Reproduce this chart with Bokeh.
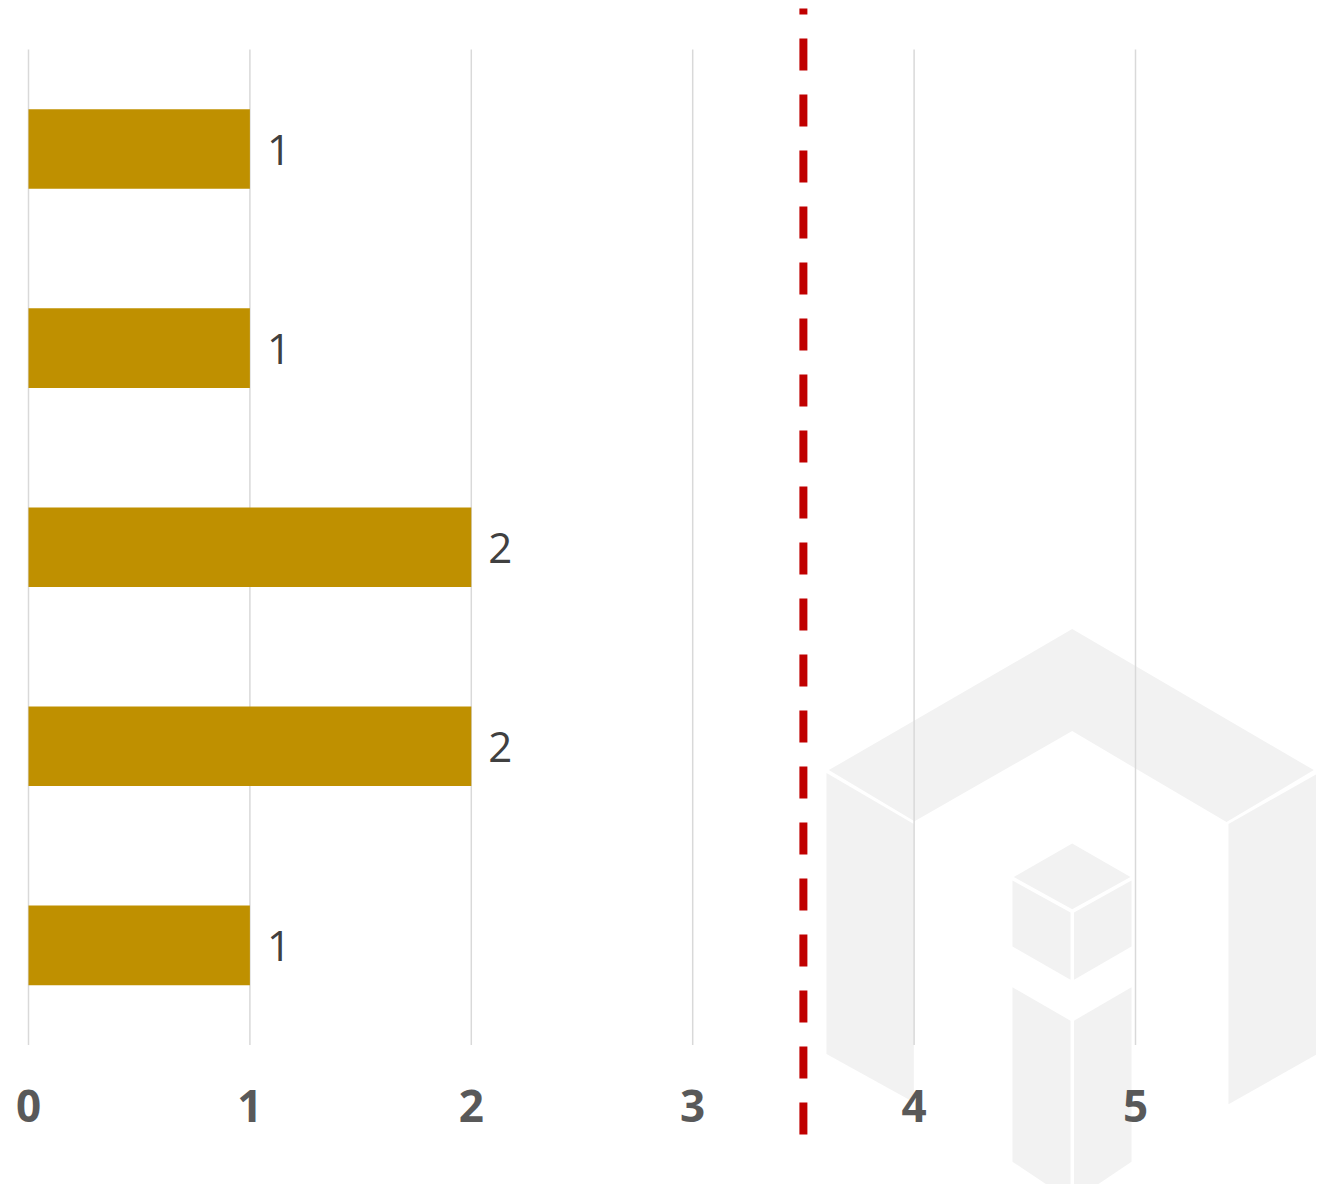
from bokeh.plotting import figure
from bokeh.models import Range1d, FixedTicker
from bokeh.core.properties import value
from bokeh.embed import file_html
from bokeh.resources import INLINE

# ---- data ----
categories = ["Category 1", "Category 2", "Category 3", "Category 4", "Category 5"]
values = [1, 1, 2, 2, 1]
target = 3.5
x_ticks = [0, 1, 2, 3, 4, 5]
value_labels = [str(v) for v in values]

# ---- layout constants (picture px -> data) ----
W, H = 1316, 1184
X0_PX, PX_PER_X = 28.0, 221.4       # px of x=0, px per unit
Y0_PX, PX_PER_CAT = 148.5, 199.1    # px of first category center, px per category


def dx(px):
    return (px - X0_PX) / PX_PER_X


def dy(px):
    return (px - Y0_PX) / PX_PER_CAT


x_range = Range1d(dx(0), dx(W))
y_range = Range1d(dy(H), dy(0))

p = figure(width=W, height=H, x_range=x_range, y_range=y_range,
           toolbar_location=None, output_backend="svg",
           y_axis_location=None, min_border=0,
           min_border_left=0, min_border_right=0, min_border_top=0, min_border_bottom=0)
p.outline_line_color = None
p.background_fill_color = "white"
p.border_fill_color = "white"
p.xgrid.visible = False
p.ygrid.visible = False

# ---- watermark (decorative, picture pixels) ----
wm_shapes = [
    [(1071.7, 628.6), (1313.3, 769.6), (1226, 821.6), (1071.7, 730.6), (914, 820.8), (828.3, 769.6)],
    [(826, 772.6), (913.3, 823.4), (913.3, 1101.8), (826, 1053.6)],
    [(1228, 823.4), (1316.7, 773.3), (1316.7, 1053.6), (1228, 1103.7)],
    [(1071.7, 843), (1130, 876.5), (1071.7, 908.8), (1013.3, 876.5)],
    [(1012, 880), (1070, 912), (1070, 979.3), (1012, 946)],
    [(1073.5, 912), (1131, 880), (1131, 946), (1073.5, 979.3)],
    [(1012, 986.8), (1070, 1020.2), (1070, 1200), (1012, 1161.2)],
    [(1073.5, 1020.2), (1131, 986.8), (1131, 1161.2), (1073.5, 1200)],
]
p.patches(xs=[[dx(a) for a, b in s] for s in wm_shapes],
          ys=[[dy(b) for a, b in s] for s in wm_shapes],
          fill_color="#f2f2f2", line_color=None, level="image")

# ---- vertical gridlines from ticks ----
n = len(categories)
p.segment(x0=x_ticks, x1=x_ticks, y0=[-0.5] * len(x_ticks), y1=[n - 0.5] * len(x_ticks),
          line_color="#d9d9d9", line_width=1.5, level="underlay")

# ---- bars ----
ys = list(range(n))
p.hbar(y=ys, left=0, right=values, height=0.4, fill_color="#bf9000", line_color=None)

# ---- value labels ----
p.text(x=values, y=ys, text=value_labels, x_offset=29, y_offset=1,
       text_align="center", text_baseline="middle",
       text_font=value("Open Sans"), text_font_size="42px", text_color="#404040")

# ---- target line ----
p.segment(x0=[target], x1=[target], y0=[dy(8)], y1=[dy(1135)],
          line_color="#c00000", line_width=8, line_dash="32 24", line_dash_offset=26,
          line_cap="butt")

# ---- x axis ----
ax = p.xaxis[0]
ax.fixed_location = n - 0.5
ax.ticker = FixedTicker(ticks=x_ticks)
ax.axis_line_color = None
ax.major_tick_line_color = None
ax.minor_tick_line_color = None
ax.major_tick_out = 0
ax.major_tick_in = 0
ax.major_label_standoff = 45
ax.major_label_text_font = "Open Sans"
ax.major_label_text_font_style = "bold"
ax.major_label_text_font_size = "44px"
ax.major_label_text_color = "#595959"

open("out.html", "w").write(file_html(p, INLINE))
